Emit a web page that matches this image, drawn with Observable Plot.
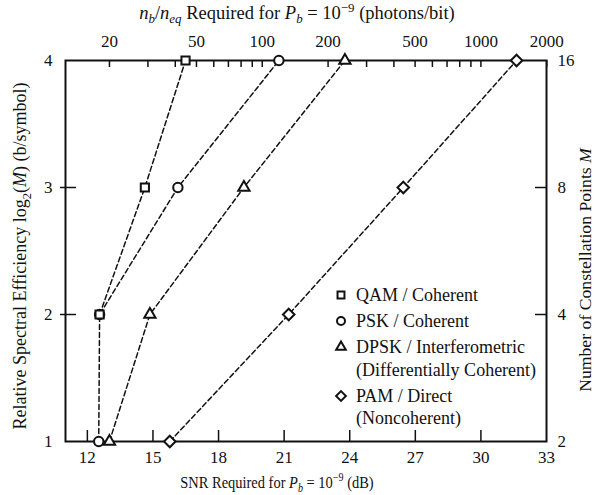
<!DOCTYPE html>
<html>
<head>
<meta charset="utf-8">
<script src="https://cdn.jsdelivr.net/npm/d3@7"></script>
<script src="https://cdn.jsdelivr.net/npm/@observablehq/plot@0.6"></script>
<style>
  html, body { margin: 0; padding: 0; background: #fff; }
  #wrap { position: relative; width: 596px; height: 495px; font-family: "Liberation Serif", "Times New Roman", serif; color: #111; }
  #wrap svg { display: block; }
  .ttl { position: absolute; white-space: nowrap; font-size: 18px; line-height: 1; }
  .ttl sub, .ttl sup { font-size: 0.7em; line-height: 0; }
  .rot { transform: translate(-50%, -50%) rotate(-90deg); }
  .hc { transform: translate(-50%, -50%); }
  .hcn { transform: translate(-50%, -50%) scaleX(0.85); }
  #legend { position: absolute; left: 333px; top: 284px; font-size: 18px; }
  #legend .row { position: relative; line-height: 22.5px; padding-left: 23px; margin-bottom: 3.5px; white-space: nowrap; }
  #legend svg { position: absolute; left: 2px; top: 5px; overflow: visible; }
</style>
</head>
<body>
<div id="wrap"></div>
<script>
// ---- data ----
const snrTicks = [12, 15, 18, 21, 24, 27, 30, 33];
const photonMajor = [20, 50, 100, 200, 500, 1000, 2000];
const photonMinor = [30, 40, 60, 70, 80, 90, 300, 400, 600, 700, 800, 900];
const effTicks = [1, 2, 3, 4];
const pointsTicks = [2, 4, 8, 16];

const seriesNames = ["QAM / Coherent", "PSK / Coherent", "DPSK / Interferometric", "PAM / Direct"];
const legendLines = [["QAM / Coherent"], ["PSK / Coherent"], ["DPSK / Interferometric", "(Differentially Coherent)"], ["PAM / Direct", "(Noncoherent)"]];
const seriesSymbols = ["square2", "circle", "triangle2", "diamond2"];
const seriesSymbolR = [5.2, 4.7, 5.4, 5.2];

const qamBits = [2, 3, 4];
const qamSnr = [12.56, 14.63, 16.49];
const pskBits = [1, 2, 3, 4];
const pskSnr = [12.52, 12.56, 16.14, 20.76];
const dpskBits = [1, 2, 3, 4];
const dpskSnr = [13.01, 14.86, 19.16, 23.78];
const pamBits = [1, 2, 3, 4];
const pamSnr = [15.77, 21.21, 26.45, 31.63];

// ---- build table ----
const mk = (name, bits, snr) => bits.map((b, i) => ({series: name, bits: b, snr: snr[i]}));
const bySeries = [
  mk(seriesNames[0], qamBits, qamSnr),
  mk(seriesNames[1], pskBits, pskSnr),
  mk(seriesNames[2], dpskBits, dpskSnr),
  mk(seriesNames[3], pamBits, pamSnr)
];
const rows = bySeries.flat();
const toDb = (n) => 10 * Math.log10(n);
const dbMajor = photonMajor.map(toDb);
const dbAll = [...photonMajor, ...photonMinor].map(toDb);

const W = 596, H = 495, mL = 65, mR = 50, mT = 60, mB = 54;
const fw = W - mL - mR, fh = H - mT - mB;

// draw order for markers: PAM, DPSK, PSK, QAM (QAM square on top of the coincident PSK circle)
const dotOrder = [3, 2, 1, 0];

const chart = Plot.plot({
  width: W, height: H,
  marginLeft: mL, marginRight: mR, marginTop: mT, marginBottom: mB,
  style: {fontFamily: "Liberation Serif, Times New Roman, serif", fontSize: "17px", color: "#111", background: "white"},
  x: {type: "linear", domain: [11, 33]},
  y: {type: "linear", domain: [1, 4]},
  symbol: {domain: seriesNames, range: seriesSymbols},
  marks: [
    Plot.axisX(snrTicks, {anchor: "bottom", tickSize: 0, tickPadding: 9, label: null, tickFormat: (d) => String(d)}),
    Plot.axisX(dbMajor, {anchor: "top", tickSize: 0, tickPadding: 14, label: null,
      tickFormat: (d) => String(photonMajor[dbMajor.indexOf(d)])}),
    Plot.axisY(effTicks, {anchor: "left", tickSize: 0, tickPadding: 13, label: null, tickFormat: (d) => String(d)}),
    Plot.axisY(effTicks, {anchor: "right", tickSize: 0, tickPadding: 11, label: null,
      tickFormat: (d) => String(pointsTicks[effTicks.indexOf(d)])}),
    Plot.tickX(snrTicks.slice(0, -1), {x: (d) => d, insetTop: fh - 11, strokeWidth: 1.5}),
    Plot.tickX(dbAll, {x: (d) => d, insetBottom: fh - 7, strokeWidth: 1.5}),
    Plot.tickY(effTicks.slice(1, -1), {y: (d) => d, insetLeft: -5, insetRight: fw - 11, strokeWidth: 1.5}),
    Plot.tickY(effTicks.slice(1, -1), {y: (d) => d, insetLeft: fw - 11, strokeWidth: 1.5}),
    Plot.frame({stroke: "#111", strokeWidth: 2}),
    Plot.line(rows, {x: "snr", y: "bits", z: "series", stroke: "#111", strokeWidth: 1.5, strokeDasharray: "5,3"}),
    ...dotOrder.map((i) => Plot.dot(bySeries[i], {x: "snr", y: "bits", symbol: "series", r: seriesSymbolR[i],
      stroke: "#111", fill: "white", strokeWidth: 2}))
  ]
});

const wrap = document.getElementById("wrap");
wrap.appendChild(chart);

function addTitle(html, x, y, cls, size) {
  const d = document.createElement("div");
  d.className = "ttl " + cls;
  d.style.left = x + "px";
  d.style.top = y + "px";
  if (size) d.style.fontSize = size + "px";
  d.innerHTML = html;
  wrap.appendChild(d);
}
addTitle('<i>n</i><sub><i>b</i></sub>/<i>n</i><sub><i>eq</i></sub> Required for <i>P</i><sub><i>b</i></sub> = 10<sup>&minus;9</sup> (photons/bit)', 297, 13, "hc", 18.5);
addTitle('SNR Required for <i>P</i><sub><i>b</i></sub> = 10<sup>&minus;9</sup> (dB)', 277, 482, "hcn", 17);
addTitle('Relative Spectral Efficiency log<sub>2</sub>(<i>M</i>) (b/symbol)', 20, 256, "rot", 18);
addTitle('Number of Constellation Points <i>M</i>', 586, 270, "rot", 17.7);

// legend
const symMap = {square2: d3.symbolSquare2, circle: d3.symbolCircle, triangle2: d3.symbolTriangle2, diamond2: d3.symbolDiamond2};
const leg = document.createElement("div");
leg.id = "legend";
wrap.appendChild(leg);
seriesNames.forEach((name, i) => {
  const row = document.createElement("div");
  row.className = "row";
  row.innerHTML = legendLines[i].join("<br>");
  const s = d3.create("svg").attr("width", 12).attr("height", 12);
  const rr = seriesSymbolR[i] * 0.85;
  s.append("path")
    .attr("transform", "translate(6,6)")
    .attr("d", d3.symbol(symMap[seriesSymbols[i]], rr * rr * Math.PI)())
    .attr("fill", "white").attr("stroke", "#111").attr("stroke-width", 2);
  row.prepend(s.node());
  leg.appendChild(row);
});
</script>
</body>
</html>
